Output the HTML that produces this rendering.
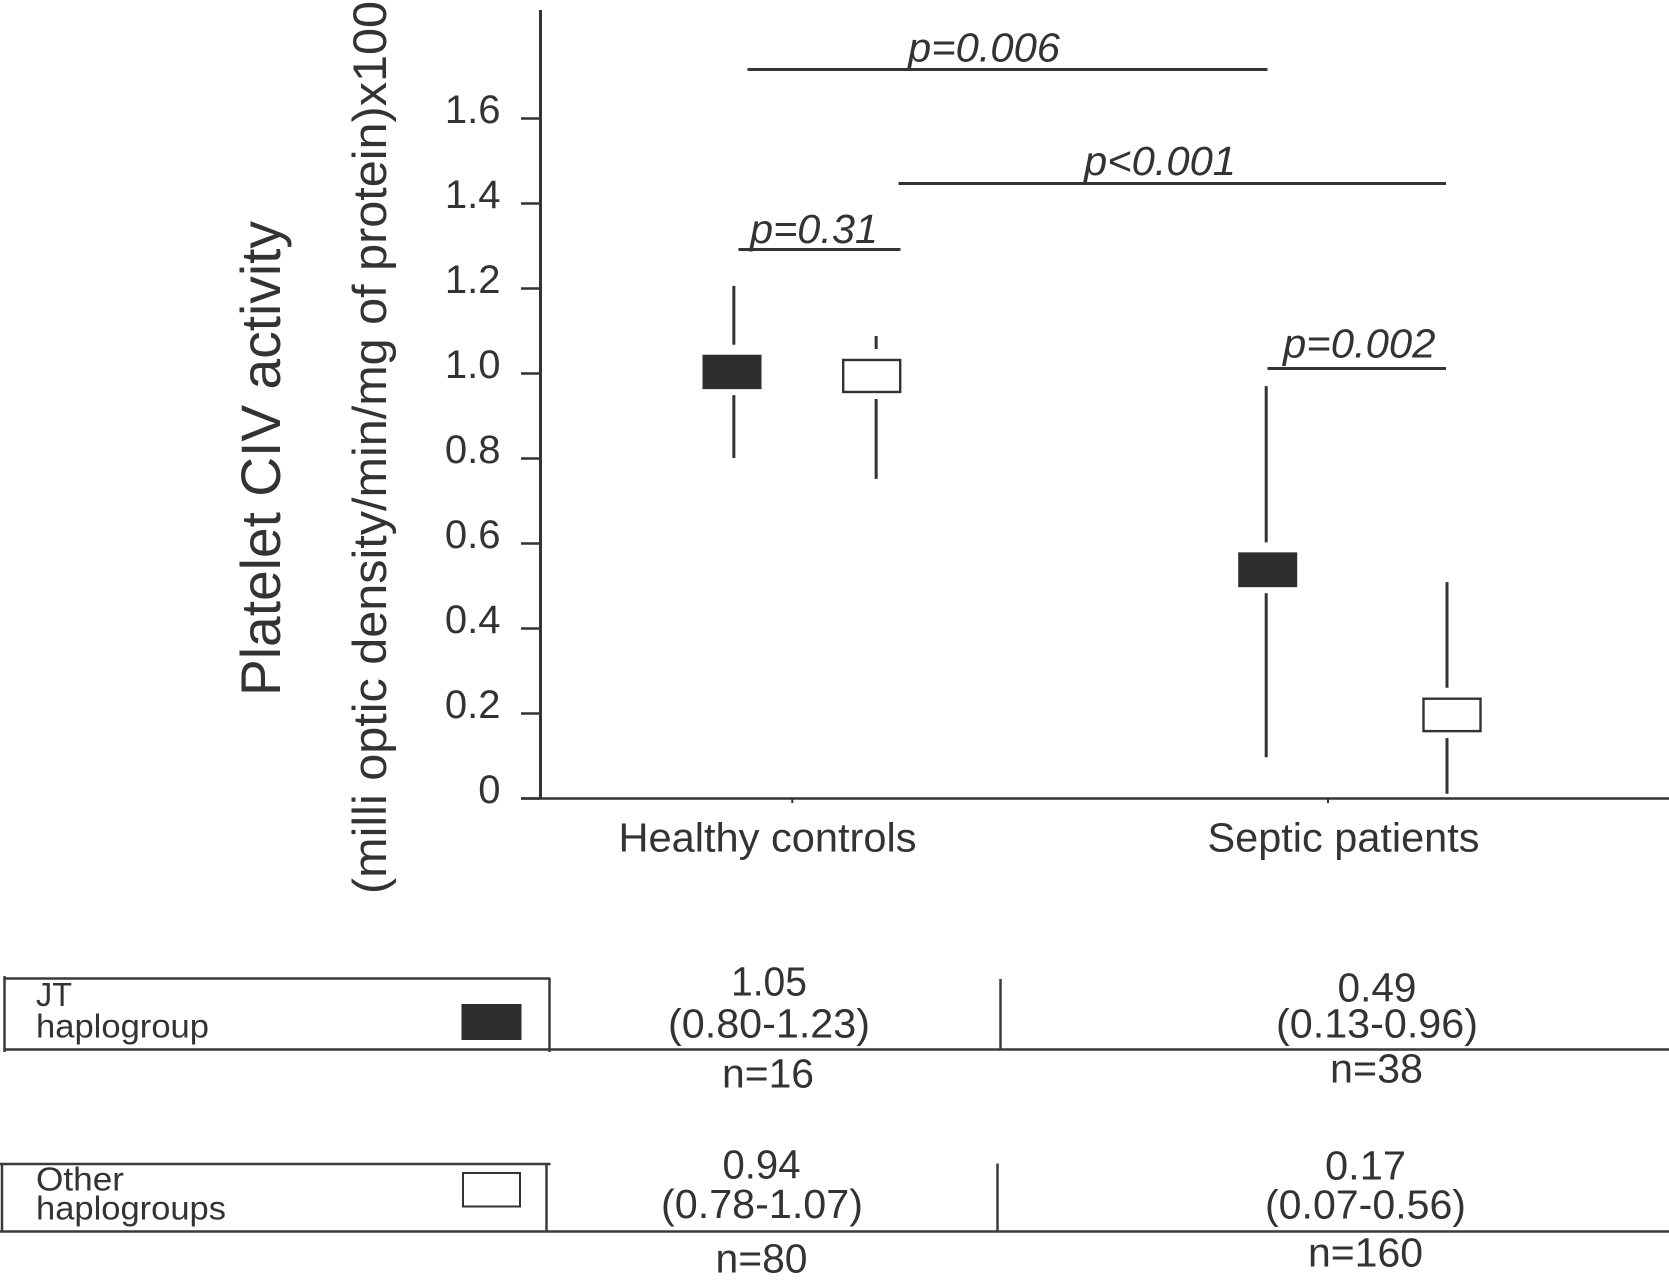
<!DOCTYPE html>
<html lang="en">
<head>
<meta charset="utf-8">
<title>Platelet CIV activity by haplogroup</title>
<style>
html,body{margin:0;padding:0;background:#fff;width:1669px;height:1282px;overflow:hidden}
svg{display:block}
text{font-family:"Liberation Sans",Arial,sans-serif;fill:#333}
.sig{stroke:#333;stroke-width:3;fill:none}
.rule{stroke:#3a3a3a;stroke-width:2.5;fill:none}
.val{font-size:41px}
.leg{font-size:33px}
.p{font-size:41px;font-style:italic}
.cat{font-size:41px}
</style>
</head>
<body>
<svg id="chart" xmlns="http://www.w3.org/2000/svg" width="1669" height="1282" viewBox="0 0 1669 1282">
  <rect x="0" y="0" width="1669" height="1282" fill="#fff"/>

  <g id="y-ticks"></g>
  <g id="x-ticks"></g>
  <g id="marks"></g>

  <line x1="540.5" y1="10" x2="540.5" y2="799" stroke="#333" stroke-width="3"/>
  <line x1="521" y1="798.5" x2="1669" y2="798.5" stroke="#333" stroke-width="2.5"/>

  <text transform="translate(280 696) rotate(-90)" font-size="56" textLength="475" lengthAdjust="spacingAndGlyphs">Platelet CIV activity</text>
  <text transform="translate(386 894) rotate(-90)" font-size="47" textLength="893" lengthAdjust="spacingAndGlyphs">(milli optic density/min/mg of protein)x100</text>

  <text class="cat" x="618.5" y="851.5" textLength="298" lengthAdjust="spacingAndGlyphs">Healthy controls</text>
  <text class="cat" x="1207.5" y="851.5" textLength="272" lengthAdjust="spacingAndGlyphs">Septic patients</text>

  <line class="sig" x1="747.5" y1="69.5" x2="1267.5" y2="69.5"/>
  <text class="p" x="908" y="61.5" textLength="152" lengthAdjust="spacingAndGlyphs">p=0.006</text>
  <line class="sig" x1="898.5" y1="183.5" x2="1446" y2="183.5"/>
  <text class="p" x="1084" y="175" textLength="152" lengthAdjust="spacingAndGlyphs">p&lt;0.001</text>
  <line class="sig" x1="738.5" y1="249.5" x2="900.5" y2="249.5"/>
  <text class="p" x="750" y="243" textLength="128" lengthAdjust="spacingAndGlyphs">p=0.31</text>
  <line class="sig" x1="1267.5" y1="368.5" x2="1446" y2="368.5"/>
  <text class="p" x="1283" y="357.5" textLength="152.5" lengthAdjust="spacingAndGlyphs">p=0.002</text>

  <g>
    <line class="rule" x1="4" y1="978.5" x2="550" y2="978.5"/>
    <line class="rule" x1="4" y1="1049.5" x2="1669" y2="1049.5"/>
    <line class="rule" x1="4.5" y1="976" x2="4.5" y2="1052"/>
    <line class="rule" x1="549.5" y1="978" x2="549.5" y2="1052"/>
    <line class="rule" x1="1000.5" y1="979" x2="1000.5" y2="1049"/>
    <text class="leg" x="36" y="1006" textLength="36" lengthAdjust="spacingAndGlyphs">JT</text>
    <text class="leg" x="36" y="1037.5" textLength="173" lengthAdjust="spacingAndGlyphs">haplogroup</text>
    <rect x="461.5" y="1004" width="60" height="36" fill="#2e2e2e"/>
    <text class="val" x="731" y="995.5" textLength="76" lengthAdjust="spacingAndGlyphs">1.05</text>
    <text class="val" x="668" y="1037.5" textLength="202" lengthAdjust="spacingAndGlyphs">(0.80-1.23)</text>
    <text class="val" x="722" y="1087.5" textLength="92" lengthAdjust="spacingAndGlyphs">n=16</text>
    <text class="val" x="1337.5" y="1001.5" textLength="79" lengthAdjust="spacingAndGlyphs">0.49</text>
    <text class="val" x="1276" y="1037.5" textLength="202" lengthAdjust="spacingAndGlyphs">(0.13-0.96)</text>
    <text class="val" x="1330" y="1082.5" textLength="93" lengthAdjust="spacingAndGlyphs">n=38</text>
  </g>

  <g>
    <line class="rule" x1="0" y1="1164" x2="550.5" y2="1164"/>
    <line class="rule" x1="0" y1="1231.5" x2="1669" y2="1231.5"/>
    <line class="rule" x1="2" y1="1164" x2="2" y2="1232"/>
    <line class="rule" x1="546.5" y1="1164" x2="546.5" y2="1232"/>
    <line class="rule" x1="997.5" y1="1163.5" x2="997.5" y2="1231"/>
    <text class="leg" x="36" y="1190.5" textLength="88" lengthAdjust="spacingAndGlyphs">Other</text>
    <text class="leg" x="36" y="1219.5" textLength="190" lengthAdjust="spacingAndGlyphs">haplogroups</text>
    <rect x="463" y="1173" width="57" height="33.5" fill="#fff" stroke="#333" stroke-width="2"/>
    <text class="val" x="722.5" y="1178.5" textLength="78" lengthAdjust="spacingAndGlyphs">0.94</text>
    <text class="val" x="661" y="1218" textLength="202" lengthAdjust="spacingAndGlyphs">(0.78-1.07)</text>
    <text class="val" x="715.5" y="1272.5" textLength="92" lengthAdjust="spacingAndGlyphs">n=80</text>
    <text class="val" x="1325" y="1179.5" textLength="81" lengthAdjust="spacingAndGlyphs">0.17</text>
    <text class="val" x="1265" y="1218.5" textLength="201" lengthAdjust="spacingAndGlyphs">(0.07-0.56)</text>
    <text class="val" x="1308" y="1266.5" textLength="115" lengthAdjust="spacingAndGlyphs">n=160</text>
  </g>
</svg>

<script>
const tickValues = [0, 0.2, 0.4, 0.6, 0.8, 1.0, 1.2, 1.4, 1.6];
const tickLabels = ['0', '0.2', '0.4', '0.6', '0.8', '1.0', '1.2', '1.4', '1.6'];
const categories = ['healthy', 'septic'];
const seriesNames = ['jt', 'other'];

const jtBoxHigh = [1.043, 0.578];
const jtBoxLow = [0.962, 0.496];
const jtWhiskerHigh = [1.205, 0.969];
const jtWhiskerLow = [0.80, 0.096];

const otherBoxHigh = [1.033, 0.236];
const otherBoxLow = [0.953, 0.155];
const otherWhiskerHigh = [1.087, 0.508];
const otherWhiskerLow = [0.751, 0.01];

const SVG_NS = 'http://www.w3.org/2000/svg';

function yAxis(v) { return 798 - 425 * v; }
function categoryTickX(c) { return 792.3 + 535.7 * c; }
function boxCenterX(c, s) {
  const mid = 801.85 + 558 * c;
  const half = 69.85 + 22.3 * c;
  return s === 0 ? mid - half : mid + half;
}
function whiskerX(c, s) {
  const mid = 805 + 551.6 * c;
  const half = 71.15 + 19.25 * c;
  return s === 0 ? mid - half : mid + half;
}

function make(tag, attrs, parent) {
  const el = document.createElementNS(SVG_NS, tag);
  Object.keys(attrs).forEach(function (k) { el.setAttribute(k, attrs[k]); });
  parent.appendChild(el);
  return el;
}

const yTickGroup = document.getElementById('y-ticks');
tickValues.forEach(function (v, i) {
  const y = yAxis(v);
  const tick = make('line', { x1: 521, x2: 540, y1: y + 0.5, y2: y + 0.5, stroke: '#333', 'stroke-width': 2.5 }, yTickGroup);
  
  
  const label = make('text', { x: 500.5, y: y + 5, 'text-anchor': 'end', 'font-size': 40 }, yTickGroup);
  
  
  label.textContent = tickLabels[i];
});

const xTickGroup = document.getElementById('x-ticks');
categories.forEach(function (name, c) {
  const x = categoryTickX(c);
  const tick = make('line', { x1: x, x2: x, y1: 798, y2: 803, stroke: '#333', 'stroke-width': 2 }, xTickGroup);
  
  
});

const markGroup = document.getElementById('marks');
const seriesData = [
  { high: jtBoxHigh, low: jtBoxLow, wHigh: jtWhiskerHigh, wLow: jtWhiskerLow, filled: true },
  { high: otherBoxHigh, low: otherBoxLow, wHigh: otherWhiskerHigh, wLow: otherWhiskerLow, filled: false }
];
const BOX_WIDTH = 59;
const GAP_ABOVE = 10;
const GAP_BELOW = 6;

seriesData.forEach(function (series, s) {
  categories.forEach(function (name, c) {
    const cx = boxCenterX(c, s);
    const wx = whiskerX(c, s);
    const top = yAxis(series.high[c]);
    const bottom = yAxis(series.low[c]);

    const upper = make('line', { x1: wx, x2: wx, y1: yAxis(series.wHigh[c]), y2: top - GAP_ABOVE, stroke: '#333', 'stroke-width': 3 }, markGroup);
    
    

    const lower = make('line', { x1: wx, x2: wx, y1: bottom + GAP_BELOW, y2: yAxis(series.wLow[c]), stroke: '#333', 'stroke-width': 3 }, markGroup);
    
    

    let box;
    if (series.filled) {
      box = make('rect', { x: cx - BOX_WIDTH / 2, y: top, width: BOX_WIDTH, height: bottom - top, fill: '#2e2e2e' }, markGroup);
    } else {
      box = make('rect', { x: cx - BOX_WIDTH / 2 + 1, y: top + 1, width: BOX_WIDTH - 2, height: bottom - top - 2, fill: '#fff', stroke: '#333', 'stroke-width': 2.4 }, markGroup);
    }
    
    
  });
});
</script>
</body>
</html>
